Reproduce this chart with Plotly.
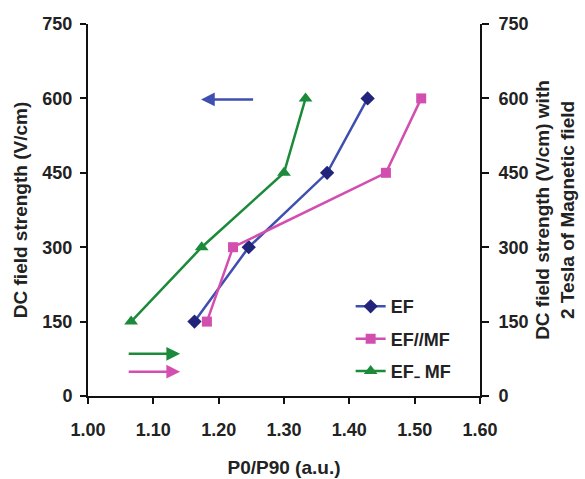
import plotly.graph_objects as go

field = [150, 300, 450, 600]
ef = [1.163, 1.246, 1.366, 1.428]
ef_par_mf = [1.182, 1.222, 1.456, 1.510]
ef_perp_mf = [1.066, 1.174, 1.300, 1.333]

x_ticks = [1.00, 1.10, 1.20, 1.30, 1.40, 1.50, 1.60]
y_ticks = [0, 150, 300, 450, 600, 750]

blue = "#3F4FB0"
navy = "#22237A"
pink = "#D24FB0"
green = "#1B8A3A"

font_family = "Liberation Sans, Arial, sans-serif"

fig = go.Figure()
fig.add_trace(go.Scatter(x=ef, y=field, name="EF", mode="lines+markers", legendgroup="a",
                         line=dict(color=blue, width=2.5),
                         marker=dict(symbol="diamond", size=11, color=navy), yaxis="y"))
fig.add_trace(go.Scatter(x=ef_par_mf, y=field, name="EF//MF", mode="lines+markers", legendgroup="b",
                         line=dict(color=pink, width=2.5),
                         marker=dict(symbol="square", size=10, color=pink), yaxis="y2"))
fig.add_trace(go.Scatter(x=ef_perp_mf, y=field, name="EF\u208B MF", mode="lines+markers", legendgroup="c",
                         line=dict(color=green, width=2.5),
                         marker=dict(symbol="triangle-up", size=12, color=green), yaxis="y2"))

arrows = [
    dict(x0=1.255, x1=1.173, y=598, color=blue),
    dict(x0=1.060, x1=1.141, y=85, color=green),
    dict(x0=1.060, x1=1.141, y=49, color=pink),
]
for a in arrows:
    fig.add_annotation(x=a["x1"], y=a["y"], ax=a["x0"], ay=a["y"], xref="x", yref="y",
                       axref="x", ayref="y", showarrow=True, arrowhead=2, arrowsize=1.1,
                       arrowwidth=2.5, arrowcolor=a["color"], text="")

tickfont = dict(family=font_family, size=18, color="#222222")
titlefont = dict(family=font_family, size=19, color="#222222")

fig.update_layout(
    width=585, height=479,
    margin=dict(l=88, r=105, t=24, b=83),
    paper_bgcolor="white", plot_bgcolor="white",
    font=dict(family=font_family, color="#222222"),
    xaxis=dict(range=[1.0, 1.6], tickvals=x_ticks, ticktext=[f"<b>{v:.2f}</b>" for v in x_ticks],
               showgrid=False, zeroline=False, showline=True, linecolor="#111111", linewidth=2,
               ticks="outside", ticklen=6, tickwidth=2, tickcolor="#111111", ticklabelstandoff=10,
               automargin=False,
               tickfont=tickfont, title=dict(text="<b>P0/P90 (a.u.)</b>", font=titlefont, standoff=22)),
    yaxis=dict(range=[0, 750], tickvals=y_ticks, ticktext=[f"<b>{v}</b>" for v in y_ticks],
               showgrid=False, zeroline=False, automargin=False,
               showline=True, linecolor="#111111", linewidth=2,
               ticks="outside", ticklen=6, tickwidth=2, tickcolor="#111111", ticklabelstandoff=4,
               tickfont=tickfont,
               title=dict(text="<b>DC field strength (V/cm)</b>", font=titlefont, standoff=10)),
    yaxis2=dict(range=[0, 750], tickvals=y_ticks, ticktext=[f"<b>{v}</b>" for v in y_ticks],
                overlaying="y", side="right", automargin=False,
                showgrid=False, zeroline=False, showline=True, linecolor="#111111", linewidth=2,
                ticks="outside", ticklen=7, tickwidth=2, tickcolor="#111111", ticklabelstandoff=6,
                tickfont=tickfont,
                title=dict(text="<b>DC field strength (V/cm) with<br>2 Tesla of Magnetic field</b>",
                           font=titlefont, standoff=8)),
    legend=dict(x=0.67, y=0.29, xanchor="left", yanchor="top", bgcolor="rgba(0,0,0,0)",
                font=dict(family=font_family, size=18, color="#222222"),
                tracegroupgap=6, itemwidth=30),
    showlegend=True,
)
for tr in fig.data:
    tr.name = f"<b>{tr.name}</b>"

fig.write_html("out.html")
